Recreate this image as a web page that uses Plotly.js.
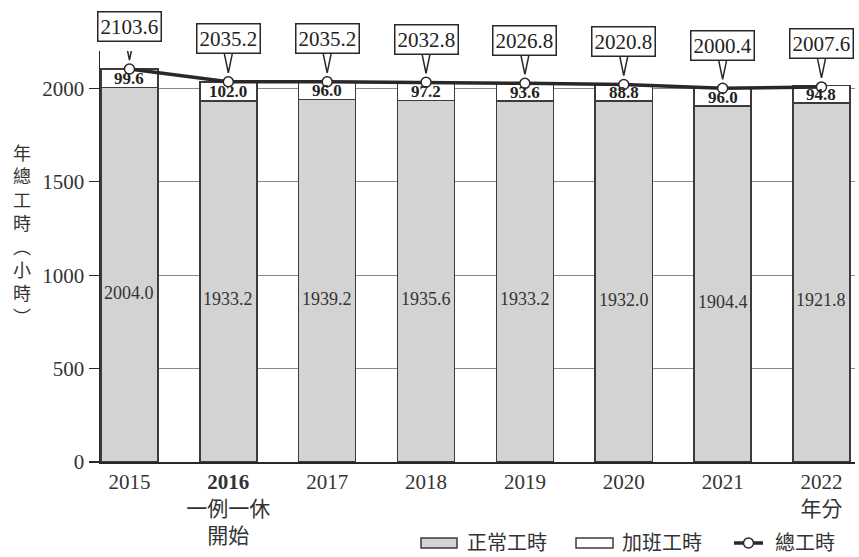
<!DOCTYPE html>
<html>
<head>
<meta charset="utf-8">
<script src="https://cdn.plot.ly/plotly-3.0.1.min.js"></script>
<style>html,body{margin:0;padding:0;background:#fff;}#chart{width:859px;height:557px;}</style>
</head>
<body>
<div id="chart"></div>
<script>
const years = ['2015','2016','2017','2018','2019','2020','2021','2022'];
const tickLabels = ['2015','<b>2016</b><br>一例一休<br>開始','2017','2018','2019','2020','2021','2022<br>年分'];
const regularHours = [2004.0, 1933.2, 1939.2, 1935.6, 1933.2, 1932.0, 1904.4, 1921.8];
const overtimeHours = [99.6, 102.0, 96.0, 97.2, 93.6, 88.8, 96.0, 94.8];
const totalHours = [2103.6, 2035.2, 2035.2, 2032.8, 2026.8, 2020.8, 2000.4, 2007.6];
const seriesNames = ['正常工時', '加班工時', '總工時'];
const yTitle = '年<br>總<br>工<br>時<br>︵<br>小<br>時<br>︶';

const FONT = '"Liberation Serif", "Noto Sans CJK TC", serif';
const DARK = '#2b2627';
const GRAY = '#d3d3d3';
const EDGE = '#3d3a3b';

// plot-area geometry (pixels) used only for placing the hand-drawn legend
const M = {l:100, r:4, t:51, b:95};
const PW = 859 - M.l - M.r, PH = 557 - M.t - M.b;
const px = p => (p - M.l) / PW;
const py = p => (557 - M.b - p) / PH;

const traces = [
  {type:'bar', name:seriesNames[0], x:years, y:regularHours, width:0.577, showlegend:false,
   marker:{color:GRAY, line:{color:EDGE, width:1.5}}, hoverinfo:'skip'},
  {type:'bar', name:seriesNames[1], x:years, y:overtimeHours, width:0.577, showlegend:false,
   marker:{color:'#ffffff', line:{color:EDGE, width:1.5}}, hoverinfo:'skip'},
  {type:'scatter', mode:'lines+markers', name:seriesNames[2], x:years, y:totalHours, showlegend:false,
   line:{color:DARK, width:3.5},
   marker:{size:10, color:'#ffffff', line:{color:DARK, width:1.5}}, cliponaxis:false}
];

const annotations = [];
const shapes = [];
years.forEach((yr, i) => {
  annotations.push({x:i, y:regularHours[i]/2, yshift:-18, text:regularHours[i].toFixed(1),
    showarrow:false, font:{family:FONT, size:18, color:'#333'}});
  annotations.push({x:i, y:regularHours[i] + overtimeHours[i]/2, text:'<b>'+overtimeHours[i].toFixed(1)+'</b>',
    showarrow:false, font:{family:FONT, size:17, color:'#222'}});
  annotations.push({x:i, y:totalHours[i], yshift:43, text:totalHours[i].toFixed(1),
    showarrow:false, bordercolor:DARK, borderwidth:1.5, borderpad:2, bgcolor:'#ffffff',
    font:{family:FONT, size:21, color:'#222'}});
  // speech-bubble tail anchored at the total value
  shapes.push({type:'path', xref:'x', yref:'y', xsizemode:'pixel', ysizemode:'pixel',
    xanchor:i, yanchor:totalHours[i], path:'M-5,33 L0,9 L5,33',
    line:{color:DARK, width:1.5}, fillcolor:'rgba(0,0,0,0)', layer:'above'});
});
annotations.push({xref:'paper', yref:'paper', x:-0.103, y:0.55, xanchor:'center', yanchor:'middle',
  text:yTitle, showarrow:false, font:{family:FONT, size:18, color:'#333'}});

// custom legend (wide swatches as in the reference)
const legY = 543;
shapes.push({type:'rect', xref:'paper', yref:'paper', x0:px(421), x1:px(457), y0:py(legY+5), y1:py(legY-5),
  fillcolor:GRAY, line:{color:EDGE, width:1.5}});
shapes.push({type:'rect', xref:'paper', yref:'paper', x0:px(576), x1:px(613), y0:py(legY+5), y1:py(legY-5),
  fillcolor:'#ffffff', line:{color:EDGE, width:1.5}});
shapes.push({type:'line', xref:'paper', yref:'paper', x0:px(734), x1:px(763), y0:py(legY), y1:py(legY),
  line:{color:DARK, width:3.5}});
shapes.push({type:'circle', xref:'paper', yref:'paper', x0:px(743.5), x1:px(753.5), y0:py(legY+5), y1:py(legY-5),
  fillcolor:'#ffffff', line:{color:DARK, width:1.5}});
[[seriesNames[0], 465], [seriesNames[1], 620], [seriesNames[2], 773]].forEach(([t, x]) => {
  annotations.push({xref:'paper', yref:'paper', x:px(x), y:py(legY), xanchor:'left', yanchor:'middle',
    text:t, showarrow:false, font:{family:FONT, size:20, color:'#333'}});
});

const layout = {
  width:859, height:557,
  margin:{l:M.l, r:M.r, t:M.t, b:M.b, autoexpand:false},
  paper_bgcolor:'#fff', plot_bgcolor:'#fff',
  barmode:'stack', showlegend:false,
  font:{family:FONT, color:'#333', size:20},
  xaxis:{type:'category', range:[-0.298, 7.339], tickvals:years, ticktext:tickLabels,
    showline:true, linecolor:DARK, linewidth:1.5, ticks:'', showgrid:false, automargin:false,
    tickfont:{family:FONT, size:21, color:'#333'}, fixedrange:true},
  yaxis:{range:[0, 2200], tickvals:[0,500,1000,1500,2000], showgrid:true, gridcolor:'#8a8a8a', gridwidth:1,
    showline:true, linecolor:DARK, linewidth:1.5, ticks:'outside', ticklen:10, tickcolor:DARK, tickwidth:1.2,
    zeroline:false, automargin:false, tickfont:{family:FONT, size:21, color:'#333'}, fixedrange:true},
  annotations:annotations,
  shapes:shapes
};

Plotly.newPlot('chart', traces, layout, {displayModeBar:false, staticPlot:true});
</script>
</body>
</html>
